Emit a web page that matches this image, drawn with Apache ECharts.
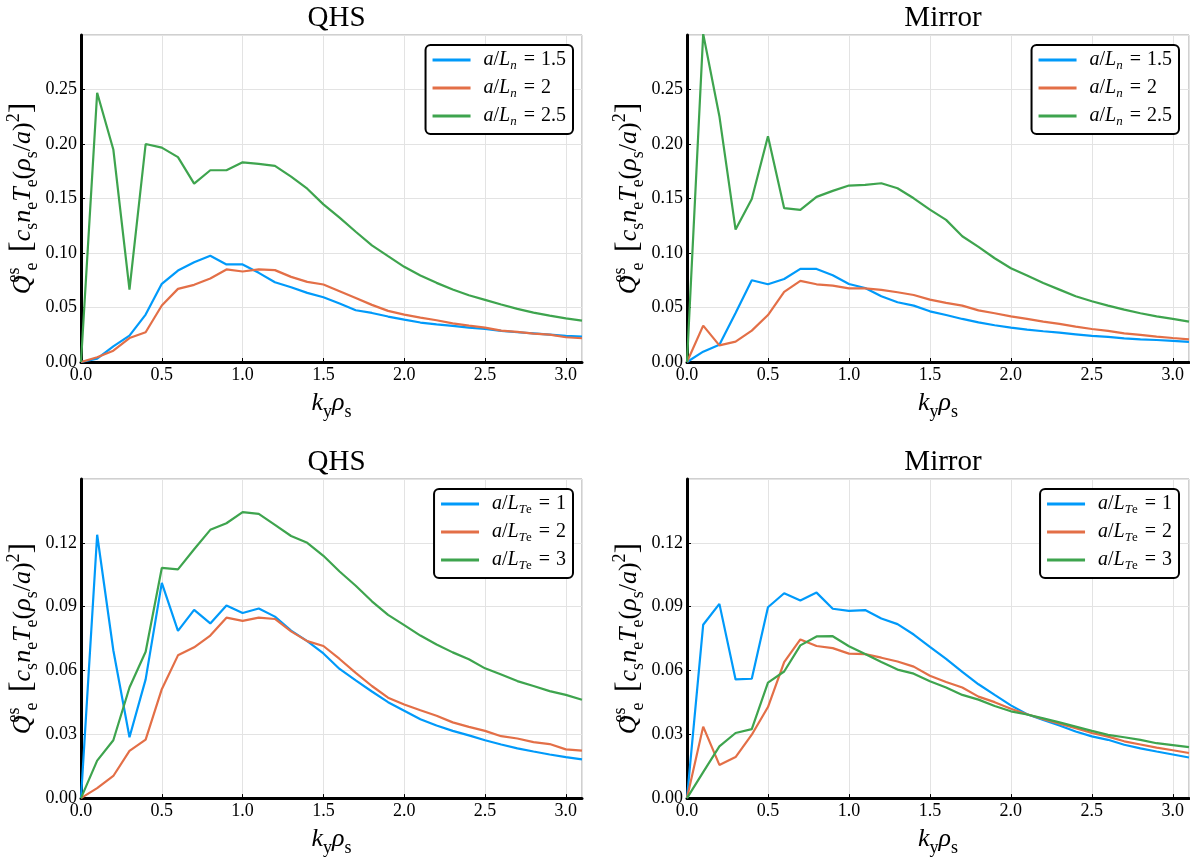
<!DOCTYPE html>
<html>
<head>
<meta charset="utf-8">
<script src="https://cdn.jsdelivr.net/npm/echarts@6/dist/echarts.min.js"></script>
<style>
html,body{margin:0;padding:0;background:#fff;}
#main{width:1190px;height:858px;}
</style>
</head>
<body>
<div id="main"></div>
<script>
// kyρs values
const kx = [0, 0.1, 0.2, 0.3, 0.4, 0.5, 0.6, 0.7, 0.8, 0.9, 1.0, 1.1, 1.2, 1.3, 1.4, 1.5, 1.6, 1.7, 1.8, 1.9, 2.0, 2.1, 2.2, 2.3, 2.4, 2.5, 2.6, 2.7, 2.8, 2.9, 3.0, 3.1];

// QHS, density-gradient scan
const qhsLn15 = [0, 0.003, 0.0144, 0.0242, 0.0435, 0.0717, 0.0839, 0.0916, 0.0974, 0.0895, 0.0895, 0.0818, 0.0732, 0.0686, 0.0634, 0.0594, 0.0536, 0.0475, 0.045, 0.0417, 0.0389, 0.0362, 0.0346, 0.0331, 0.0316, 0.0303, 0.0285, 0.0273, 0.0263, 0.0251, 0.0239, 0.0233];
const qhsLn2 = [0, 0.0043, 0.0104, 0.022, 0.0273, 0.0518, 0.0671, 0.0708, 0.0766, 0.0849, 0.083, 0.0849, 0.0843, 0.0781, 0.0735, 0.0711, 0.065, 0.0588, 0.0524, 0.0469, 0.0435, 0.0407, 0.0383, 0.0355, 0.0334, 0.0316, 0.0288, 0.0276, 0.026, 0.0251, 0.0227, 0.0218];
const qhsLn25 = [0, 0.247, 0.195, 0.0665, 0.200, 0.1967, 0.188, 0.1636, 0.1759, 0.1759, 0.1832, 0.1817, 0.180, 0.170, 0.159, 0.1446, 0.1324, 0.1195, 0.107, 0.0971, 0.0873, 0.0794, 0.0726, 0.0665, 0.0613, 0.057, 0.0527, 0.0487, 0.0453, 0.0426, 0.0401, 0.038];

// Mirror, density-gradient scan
const mirLn15 = [0, 0.0095, 0.0159, 0.045, 0.075, 0.0713, 0.0762, 0.0854, 0.0854, 0.0796, 0.0716, 0.0679, 0.0603, 0.0548, 0.0517, 0.0465, 0.0431, 0.0395, 0.0364, 0.0337, 0.0315, 0.0297, 0.0282, 0.0269, 0.0254, 0.0239, 0.023, 0.0217, 0.0208, 0.0202, 0.0193, 0.0184];
const mirLn2 = [0, 0.0334, 0.0153, 0.0187, 0.0288, 0.0431, 0.0643, 0.0744, 0.0713, 0.0701, 0.0676, 0.0676, 0.0661, 0.064, 0.0615, 0.0572, 0.0542, 0.0517, 0.0474, 0.0447, 0.0419, 0.0395, 0.037, 0.0349, 0.0324, 0.0303, 0.0285, 0.0263, 0.0248, 0.0233, 0.022, 0.0208];
const mirLn25 = [0, 0.301, 0.2255, 0.1215, 0.1496, 0.2072, 0.1411, 0.1395, 0.1515, 0.157, 0.1619, 0.1625, 0.164, 0.1594, 0.1502, 0.1398, 0.1304, 0.1154, 0.1056, 0.0952, 0.086, 0.0793, 0.0725, 0.0664, 0.0603, 0.0557, 0.0517, 0.048, 0.0447, 0.0419, 0.0395, 0.037];

// QHS, temperature-gradient scan
const qhsT1 = [0, 0.1238, 0.0695, 0.0286, 0.0558, 0.1012, 0.0786, 0.0885, 0.0821, 0.0905, 0.087, 0.0891, 0.0853, 0.0787, 0.0738, 0.068, 0.0607, 0.0553, 0.0501, 0.0451, 0.0411, 0.0371, 0.0341, 0.0316, 0.0295, 0.0272, 0.0252, 0.0234, 0.0219, 0.0205, 0.0193, 0.0182];
const qhsT2 = [0, 0.0047, 0.0104, 0.0222, 0.0275, 0.0512, 0.0671, 0.0709, 0.0764, 0.0848, 0.0833, 0.0848, 0.0842, 0.0784, 0.0738, 0.0715, 0.0654, 0.0589, 0.0527, 0.0472, 0.044, 0.0413, 0.0387, 0.0356, 0.0335, 0.0316, 0.0291, 0.028, 0.0263, 0.0254, 0.0229, 0.0223];
const qhsT3 = [0, 0.0176, 0.0272, 0.052, 0.0688, 0.1082, 0.1075, 0.117, 0.1261, 0.1292, 0.1344, 0.1336, 0.1284, 0.1232, 0.12, 0.1139, 0.1065, 0.0998, 0.0925, 0.0861, 0.0813, 0.0764, 0.0722, 0.0685, 0.0653, 0.061, 0.0581, 0.055, 0.0527, 0.0503, 0.0485, 0.0462];

// Mirror, temperature-gradient scan
const mirT1 = [0, 0.0815, 0.0913, 0.0558, 0.0561, 0.0897, 0.0963, 0.0929, 0.0966, 0.089, 0.088, 0.0884, 0.0844, 0.0818, 0.0769, 0.0711, 0.0654, 0.0593, 0.0535, 0.0485, 0.0436, 0.0394, 0.0367, 0.0341, 0.0313, 0.029, 0.0274, 0.0251, 0.0234, 0.0219, 0.0205, 0.0191];
const mirT2 = [0, 0.0336, 0.0156, 0.0193, 0.0298, 0.0428, 0.0639, 0.0746, 0.0715, 0.0705, 0.0679, 0.0677, 0.066, 0.0642, 0.0618, 0.0575, 0.0546, 0.052, 0.0477, 0.0451, 0.042, 0.0394, 0.0371, 0.035, 0.0329, 0.0306, 0.0289, 0.0267, 0.0252, 0.0237, 0.0225, 0.0212];
const mirT3 = [0, 0.0122, 0.0243, 0.0306, 0.0324, 0.0543, 0.0595, 0.0718, 0.076, 0.0761, 0.0714, 0.0677, 0.064, 0.0604, 0.0585, 0.0549, 0.052, 0.0485, 0.0463, 0.0433, 0.0408, 0.0393, 0.0375, 0.0356, 0.0336, 0.0316, 0.0297, 0.0286, 0.0274, 0.0258, 0.0249, 0.024];

const titles = ['QHS', 'Mirror', 'QHS', 'Mirror'];
const lnNames = ['a/L_n = 1.5', 'a/L_n = 2', 'a/L_n = 2.5'];
const lnLabels = ['1.5', '2', '2.5'];
const tNames = ['a/L_Te = 1', 'a/L_Te = 2', 'a/L_Te = 3'];
const tLabels = ['1', '2', '3'];
const colors = ['#009AFA', '#E36F47', '#3EA44E'];

const SERIF = 'Liberation Serif';

const panels = [
  {left: 81, top: 35, width: 501, height: 327, ymax: 0.30, yint: 0.05, names: lnNames, data: [qhsLn15, qhsLn2, qhsLn25]},
  {left: 687, top: 35, width: 502, height: 327, ymax: 0.30, yint: 0.05, names: lnNames, data: [mirLn15, mirLn2, mirLn25]},
  {left: 81, top: 479, width: 501, height: 328, ymax: 0.15, yint: 0.03, names: tNames, data: [qhsT1, qhsT2, qhsT3]},
  {left: 687, top: 479, width: 502, height: 328, ymax: 0.15, yint: 0.03, names: tNames, data: [mirT1, mirT2, mirT3]}
];
const legendPos = [
  {right: 617, top: 45}, {right: 11, top: 45}, {right: 617, top: 489}, {right: 11, top: 489}
];

const nameRich = {
  i: {fontFamily: SERIF, fontStyle: 'italic', fontSize: 26, lineHeight: 36, verticalAlign: 'middle', color: '#000'},
  r: {fontFamily: SERIF, fontSize: 26, lineHeight: 36, verticalAlign: 'middle', color: '#000'},
  sub: {fontFamily: SERIF, fontSize: 18, lineHeight: 22, verticalAlign: 'bottom', color: '#000'},
  subw: {fontFamily: SERIF, fontSize: 18, lineHeight: 22, verticalAlign: 'bottom', color: '#000', width: 16},
  sup: {fontFamily: SERIF, fontSize: 18, lineHeight: 22, verticalAlign: 'top', color: '#000'},
  sup0: {fontFamily: SERIF, fontSize: 18, lineHeight: 22, verticalAlign: 'top', color: '#000', width: 1},
  br: {fontFamily: SERIF, fontSize: 32, lineHeight: 36, verticalAlign: 'middle', color: '#000'}
};
const yName = '{i|Q}{sup0|es}{subw|e} {br|[}{i|c}{sub|s}{i|n}{sub|e}{i|T}{sub|e}{r|(}{i|ρ}{sub|s}{r|/}{i|a}{r|)}{sup|2}{br|]}';
const xName = '{i|k}{sub|y}{i|ρ}{sub|s}';

const legRich = {
  i: {fontFamily: SERIF, fontStyle: 'italic', fontSize: 20, lineHeight: 24, verticalAlign: 'middle', color: '#000'},
  r: {fontFamily: SERIF, fontSize: 20, lineHeight: 24, verticalAlign: 'middle', color: '#000'},
  eq: {fontFamily: SERIF, fontSize: 20, lineHeight: 24, verticalAlign: 'middle', color: '#000', padding: [0, 6, 0, 7]},
  sub: {fontFamily: SERIF, fontSize: 13, lineHeight: 14, verticalAlign: 'bottom', color: '#000'},
  subi: {fontFamily: SERIF, fontStyle: 'italic', fontSize: 13, lineHeight: 14, verticalAlign: 'bottom', color: '#000'}
};
function legFmt(name) {
  let k = lnNames.indexOf(name);
  if (k >= 0) return '{i|a}{r|/}{i|L}{subi|n}{eq|=}{r|' + lnLabels[k] + '}';
  k = tNames.indexOf(name);
  return '{i|a}{r|/}{i|L}{subi|T}{sub|e}{eq|=}{r|' + tLabels[k] + '}';
}

const grid = [], xAxis = [], yAxis = [], series = [], legend = [], title = [];
panels.forEach((p, gi) => {
  grid.push({left: p.left, top: p.top, width: p.width, height: p.height, show: true, borderColor: '#a0a0a0', borderWidth: 1, backgroundColor: '#fff'});
  xAxis.push({
    type: 'value', gridIndex: gi, min: 0, max: 3.1, interval: 0.5,
    name: xName, nameLocation: 'middle', nameGap: 20,
    nameTextStyle: {fontFamily: SERIF, fontSize: 26, lineHeight: 36, color: '#000', rich: nameRich},
    axisLine: {show: true, onZero: false, lineStyle: {color: '#000', width: 3}},
    axisTick: {show: true, inside: true, length: 4, lineStyle: {color: '#000', width: 1}},
    axisLabel: {fontFamily: SERIF, fontSize: 18, color: '#000', margin: 4, showMaxLabel: false, formatter: v => v.toFixed(1)},
    splitLine: {show: true, lineStyle: {color: '#e3e3e3', width: 1}}
  });
  yAxis.push({
    type: 'value', gridIndex: gi, min: 0, max: p.ymax, interval: p.yint,
    name: yName, nameLocation: 'middle', nameGap: 40, nameRotate: 90,
    nameTextStyle: {fontFamily: SERIF, fontSize: 26, lineHeight: 36, color: '#000', rich: nameRich},
    axisLine: {show: true, onZero: false, lineStyle: {color: '#000', width: 3}},
    axisTick: {show: true, inside: true, length: 4, lineStyle: {color: '#000', width: 1}},
    axisLabel: {fontFamily: SERIF, fontSize: 18, color: '#000', margin: 4, showMaxLabel: false, formatter: v => v.toFixed(2)},
    splitLine: {show: true, lineStyle: {color: '#e3e3e3', width: 1}}
  });
  p.data.forEach((arr, si) => {
    series.push({
      type: 'line', name: p.names[si], xAxisIndex: gi, yAxisIndex: gi,
      data: kx.map((x, j) => [x, arr[j]]),
      showSymbol: false, symbol: 'none', clip: true,
      lineStyle: {color: colors[si], width: 2.2},
      itemStyle: {color: colors[si]},
      z: 3 + si
    });
  });
  legend.push(Object.assign({
    orient: 'vertical', data: p.names, icon: 'rect', itemWidth: 38, itemHeight: 3, itemGap: 4,
    backgroundColor: '#fff', borderColor: '#000', borderWidth: 2, borderRadius: 5,
    padding: [3, 7, 6, 7], selectedMode: false, formatter: legFmt,
    textStyle: {fontFamily: SERIF, fontSize: 20, lineHeight: 24, color: '#000', padding: [0, 0, 0, 8], rich: legRich}
  }, legendPos[gi]));
  title.push({
    text: titles[gi], left: p.left + p.width / 2, top: p.top - 36, textAlign: 'center',
    textStyle: {fontFamily: SERIF, fontWeight: 'normal', fontSize: 29, color: '#000'}
  });
});

const chart = echarts.init(document.getElementById('main'), null, {renderer: 'canvas'});
chart.setOption({
  animation: false,
  backgroundColor: '#fff',
  color: colors,
  title, grid, xAxis, yAxis, legend, series
});
</script>
</body>
</html>
